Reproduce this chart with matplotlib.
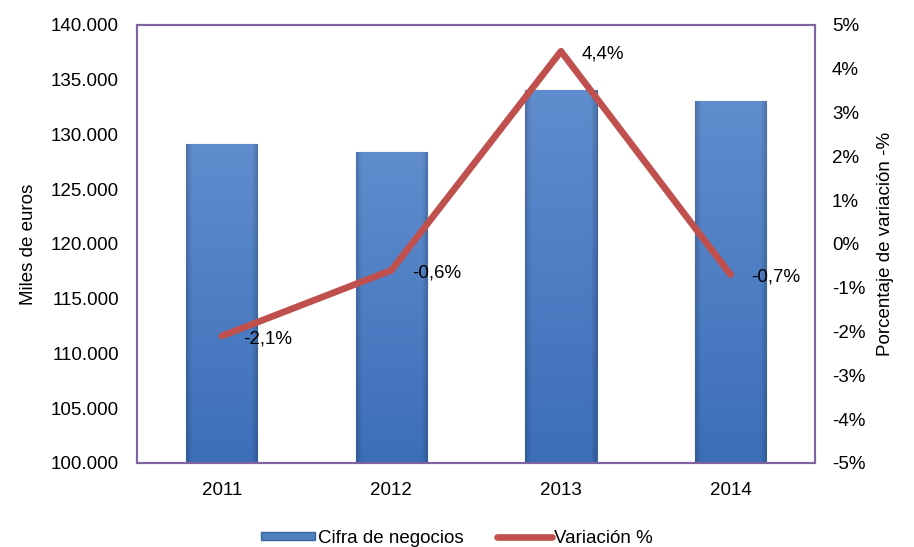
import numpy as np
import matplotlib.pyplot as plt
from matplotlib.ticker import FuncFormatter
from matplotlib.patches import Patch
from matplotlib.lines import Line2D

plt.rcParams['font.family'] = ['Liberation Sans', 'DejaVu Sans']

years = ["2011", "2012", "2013", "2014"]
cifra = [129100, 128400, 134100, 133100]
variacion = [-2.1, -0.6, 4.4, -0.7]
var_labels = ["-2,1%", "-0,6%", "4,4%", "-0,7%"]

fig = plt.figure(figsize=(9.14, 5.47), dpi=100)
ax = fig.add_axes([0.150, 0.1536, 0.742, 0.8007])
ax2 = ax.twinx()

x = np.arange(len(years))
bars = ax.bar(x, cifra, width=0.42, color='#4F81BD', edgecolor='#3A65A0', linewidth=0.8, zorder=2)

# relleno con degradado: mas claro arriba, bordes laterales mas oscuros
top = np.array([96, 141, 206]) / 255
bot = np.array([60, 110, 184]) / 255
ny, nx = 200, 60
t = np.linspace(0, 1, ny).reshape(-1, 1, 1)
u = np.linspace(0, 1, nx)
side = 1 - 0.18 * np.clip(1 - np.minimum(u, 1 - u) / 0.08, 0, 1)
img = (bot + (top - bot) * t) * side.reshape(1, -1, 1)
img = np.clip(img, 0, 1)
for b in bars:
    x0, w, h = b.get_x(), b.get_width(), b.get_height()
    im = ax.imshow(img, aspect='auto', origin='lower',
                   extent=[x0, x0 + w, 100000, h], zorder=2.5, interpolation='bilinear')
    im.set_clip_path(b)

ax.set_xlim(-0.5, 3.5)
ax.set_ylim(100000, 140000)
ax.set_yticks(np.arange(100000, 140001, 5000))
ax.yaxis.set_major_formatter(FuncFormatter(lambda v, p: f"{int(v):,}".replace(",", ".")))
ax.set_xticks(x)
ax.set_xticklabels(years)
ax.set_ylabel("Miles de euros", fontsize=13.5, labelpad=10)

ax2.plot(x, variacion, color='#C0504D', linewidth=4.8, solid_capstyle='round', zorder=3)
ax2.set_ylim(-5, 5)
ax2.set_yticks(np.arange(-5, 6, 1))
ax2.yaxis.set_major_formatter(FuncFormatter(lambda v, p: f"{int(round(v))}%"))
ax2.set_ylabel("Porcentaje de variación -%", fontsize=13.5, labelpad=8)
for xi, v, s in zip(x, variacion, var_labels):
    ax2.annotate(s, (xi, v), xytext=(15, -2), textcoords='offset points',
                 ha='left', va='center', fontsize=13.5, zorder=4)

ax.tick_params(axis='y', length=0, labelsize=13.5, pad=13)
ax.tick_params(axis='x', length=0, labelsize=13.5, pad=14)
ax2.tick_params(length=0, labelsize=13.5, pad=12)
for a in (ax, ax2):
    for s in a.spines.values():
        s.set_color('#8064A2')
        s.set_linewidth(1.5)

handles = [Patch(facecolor='#4F81BD', edgecolor='#3A65A0'),
           Line2D([0], [0], color='#C0504D', linewidth=4.8, solid_capstyle='round')]
fig.legend(handles, ["Cifra de negocios", "Variación %"], loc='lower center',
           bbox_to_anchor=(0.5, -0.03), ncol=2, frameon=False, fontsize=13.5,
           handlelength=2.9, handleheight=0.3, handletextpad=0.15, columnspacing=1.8)

fig.savefig("out.png", dpi=100)
